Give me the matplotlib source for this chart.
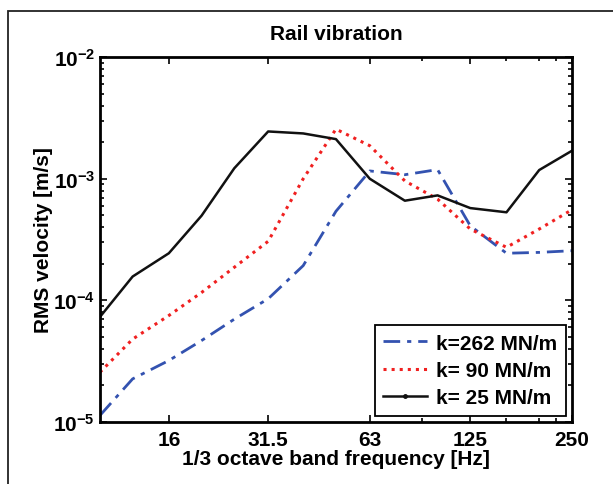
"""
Rail vibration: RMS velocity per 1/3 octave band for three rail pad stiffnesses
"""
import numpy as np
import matplotlib
matplotlib.use('Agg')
import matplotlib.pyplot as plt
from matplotlib.patches import Rectangle
from matplotlib.lines import Line2D
from matplotlib.ticker import FixedLocator, LogLocator, NullFormatter

# 1/3 octave band centre frequencies [Hz]
freqs = [10, 12.5, 16, 20, 25, 31.5, 40, 50, 63, 80, 100, 125, 160, 200, 250]

# RMS velocity [m/s]
v_k262 = [1.13e-5, 2.26e-5, 3.2e-5, 4.67e-5, 7.0e-5, 1.03e-4, 1.93e-4, 5.4e-4,
          1.16e-3, 1.08e-3, 1.19e-3, 4.1e-4, 2.44e-4, 2.48e-4, 2.56e-4]
v_k90 = [2.56e-5, 4.8e-5, 7.5e-5, 1.16e-4, 1.87e-4, 3.06e-4, 1.0e-3, 2.56e-3,
         1.87e-3, 9.6e-4, 6.8e-4, 3.86e-4, 2.73e-4, 3.86e-4, 5.56e-4]
v_k25 = [7.3e-5, 1.57e-4, 2.44e-4, 4.97e-4, 1.22e-3, 2.45e-3, 2.36e-3, 2.12e-3,
         1.0e-3, 6.6e-4, 7.3e-4, 5.74e-4, 5.3e-4, 1.18e-3, 1.7e-3]

labels = ['k=262 MN/m', 'k= 90 MN/m', 'k= 25 MN/m']
xticks = [16, 31.5, 63, 125, 250]
xtick_labels = ['16', '31.5', '63', '125', '250']
xminor = [90, 160, 200, 225]

# Some settings
fontsize = 15
blue, red, black = '#3352b0', '#f02020', '#111111'
plt.rcParams['font.family'] = ['Liberation Sans', 'DejaVu Sans']
plt.rcParams['font.weight'] = 'bold'
plt.rcParams['mathtext.fontset'] = 'custom'
plt.rcParams['mathtext.rm'] = 'Liberation Sans:bold'
plt.rcParams['mathtext.bf'] = 'Liberation Sans:bold'
plt.rcParams['mathtext.it'] = 'Liberation Sans:bold'

fig = plt.figure(figsize=(6.13, 4.85), dpi=100)
ax = fig.add_axes([0.163, 0.128, 0.770, 0.752])

ax.plot(freqs, v_k262, linestyle=(0, (6, 2.5, 1.5, 2.5)), color=blue, lw=2.0)
ax.plot(freqs, v_k90, linestyle=':', color=red, lw=2.2)
ax.plot(freqs, v_k25, linestyle='-', color=black, lw=1.8)

ax.set_xscale('log')
ax.set_yscale('log')
ax.set_xlim(10, 250)
ax.set_ylim(1e-5, 1e-2)

# Ticks
ax.xaxis.set_major_locator(FixedLocator(xticks))
ax.set_xticklabels(xtick_labels)
ax.xaxis.set_minor_locator(FixedLocator(xminor))
ax.xaxis.set_minor_formatter(NullFormatter())
ax.yaxis.set_major_locator(FixedLocator([1e-5, 1e-4, 1e-3, 1e-2]))
ax.set_yticklabels([r'$\mathbf{10^{-5}}$', r'$\mathbf{10^{-4}}$',
                    r'$\mathbf{10^{-3}}$', r'$\mathbf{10^{-2}}$'])
ax.yaxis.set_minor_locator(LogLocator(base=10, subs=np.arange(2, 10)))
ax.yaxis.set_minor_formatter(NullFormatter())
ax.tick_params(which='both', direction='in', top=True, right=True,
               labelsize=fontsize, width=1.2)
ax.tick_params(which='major', length=5)
ax.tick_params(which='minor', length=3)
ax.tick_params(axis='x', pad=6)
for s in ax.spines.values():
    s.set_linewidth(2.0)

# Labels
ax.set_title('Rail vibration', fontsize=fontsize, fontweight='bold', pad=13)
ax.set_xlabel('1/3 octave band frequency [Hz]', fontsize=fontsize,
              fontweight='bold', labelpad=0)
ax.set_ylabel('RMS velocity [m/s]', fontsize=fontsize, fontweight='bold',
              labelpad=0)

# Legend, the soft pad line gets a dot in the middle like the original
handles = [Line2D([], [], linestyle=(0, (6, 2.5, 1.5, 2.5)), color=blue, lw=2.0),
           Line2D([], [], linestyle=':', color=red, lw=2.2),
           Line2D([], [], linestyle='-', color=black, lw=1.8,
                  marker='.', markersize=5, markevery=[1])]
leg = ax.legend(handles, labels, loc='lower right', fontsize=fontsize,
                fancybox=False, framealpha=1, edgecolor='black',
                handlelength=2.1, borderaxespad=0.3, labelspacing=0.4,
                handletextpad=0.45, borderpad=0.4)
leg.get_frame().set_linewidth(1.3)

# Outer frame around the figure
fig.patches.append(Rectangle((8 / 613, -0.1), 1.2, 0.975 + 0.1,
                             transform=fig.transFigure, fill=False,
                             edgecolor='#222222', linewidth=1.3))

plt.savefig('out.png', dpi=100)
